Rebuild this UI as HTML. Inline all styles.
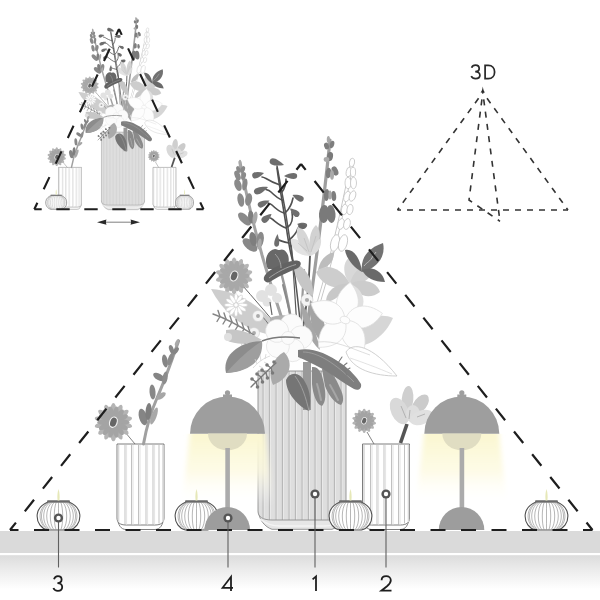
<!DOCTYPE html>
<html><head><meta charset="utf-8">
<style>
html,body{margin:0;padding:0;background:#fff;width:600px;height:600px;overflow:hidden}
svg{display:block}
text{font-family:"Liberation Sans",sans-serif}
</style></head>
<body>
<svg width="600" height="600" viewBox="0 0 600 600">
<defs>
  <linearGradient id="floor" x1="0" y1="0" x2="0" y2="1">
    <stop offset="0" stop-color="#dcdcdc"/>
    <stop offset="0.5" stop-color="#eeeeee"/>
    <stop offset="1" stop-color="#ffffff"/>
  </linearGradient>
  <linearGradient id="glow" x1="0" y1="0" x2="0" y2="1">
    <stop offset="0" stop-color="#fbf7cf" stop-opacity="1"/>
    <stop offset="0.2" stop-color="#fbf7d2" stop-opacity="1"/>
    <stop offset="0.6" stop-color="#fdfae0" stop-opacity="0.8"/>
    <stop offset="1" stop-color="#ffffff" stop-opacity="0"/>
  </linearGradient>
  <pattern id="stripes" x="258" y="0" width="6.5" height="10" patternUnits="userSpaceOnUse">
    <rect width="6.5" height="10" fill="#dedede"/>
    <rect x="4.5" width="1.2" height="10" fill="#b4b4b4"/>
    <rect x="5.7" width="0.8" height="10" fill="#eeeeee"/>
  </pattern>
  <g id="candle">
    <path d="M-10.5,-28 C-14,-26.5 -20.5,-23.5 -21.3,-15.5 C-22,-7 -17,-1.5 -11,0 L11,0 C17,-1.5 22,-7 21.3,-15.5 C20.5,-23.5 14,-26.5 10.5,-28 Z" fill="#fff" stroke="#505050" stroke-width="1.1"/>
    <path d="M-10.24,-27.5 C-21.08,-22 -21.08,-6 -10.72,-0.5 M-9.46,-27.5 C-19.48,-22 -19.48,-6 -9.91,-0.5 M-8.21,-27.5 C-16.91,-22 -16.91,-6 -8.60,-0.5 M-6.55,-27.5 C-13.48,-22 -13.48,-6 -6.86,-0.5 M-4.56,-27.5 C-9.38,-22 -9.38,-6 -4.77,-0.5 M-2.34,-27.5 C-4.81,-22 -4.81,-6 -2.45,-0.5 M0.00,-27.5 C0.00,-22 0.00,-6 0.00,-0.5 M2.34,-27.5 C4.81,-22 4.81,-6 2.45,-0.5 M4.56,-27.5 C9.38,-22 9.38,-6 4.77,-0.5 M6.55,-27.5 C13.48,-22 13.48,-6 6.86,-0.5 M8.21,-27.5 C16.91,-22 16.91,-6 8.60,-0.5 M9.46,-27.5 C19.48,-22 19.48,-6 9.91,-0.5 M10.24,-27.5 C21.08,-22 21.08,-6 10.72,-0.5" fill="none" stroke="#7a7a7a" stroke-width="0.55"/>
    <path d="M-10.5,-28.8 L10.5,-28.8" stroke="#6a6a6a" stroke-width="2" stroke-linecap="round"/>
    <path d="M0,-41 C1.3,-37 1.3,-33 0.9,-29.5 L-0.9,-29.5 C-1.3,-33 -1.3,-37 0,-41 Z" fill="#e6e8b8"/>
  </g>
  <g id="ring">
    <circle r="4.6" fill="#555"/>
    <circle r="2.2" fill="#fff"/>
  </g>
  <g id="smallvase">
    <path d="M117.5,518 C118,525 121,529.5 126,529.5 L155,529.5 C160,529.5 163,525 163.5,518 Z" fill="#fff" stroke="#6e6e6e" stroke-width="0.9"/>
    <path d="M117,444 L164,444 L164,518 C164,522.5 161,525 155,525 L126,525 C120,525 117,522.5 117,518 Z" fill="#fff" stroke="#6e6e6e" stroke-width="0.9"/>
    <path d="M118.5,445 V522 M163,445 V522" stroke="#d8d8d8" stroke-width="1.6"/>
    <path d="M125,445 V524.5 M131.5,445 V524.5 M138.5,445 V524.5 M146,445 V524.5 M153,445 V524.5 M159,445 V523.5" stroke="#a6a6a6" stroke-width="0.7"/>
    <path d="M126.5,445 V524.5 M133,445 V524.5 M140,445 V524.5 M147.5,445 V524.5 M154.5,445 V524.5" stroke="#e6e6e6" stroke-width="1.2"/>
  </g>
<g id="bouquetvase"><path d="M258.5,511 C259,520 265,527 272,529.3 L332,529.3 C339,527 345,520 345.5,511 Z" fill="#e6e6e6" stroke="#8a8a8a" stroke-width="0.9"/><path d="M260,519 C266,524 272,526 280,526 L324,526 C332,526 338,524 344,519" fill="none" stroke="#f4f4f4" stroke-width="1.5"/><path d="M258,371 L346,371 L346,511 C346,517 341,520 332,520 L272,520 C263,520 258,517 258,511 Z" fill="url(#stripes)" stroke="#8f8f8f" stroke-width="0.9"/><g fill="none" stroke-linecap="round"><path d="M290,345 C283,320 272,290 262,255 C256,232 250,215 240,162" stroke="#a3a3a3" stroke-width="3"/><path d="M302,340 C298,300 292,240 277,166" stroke="#555" stroke-width="1.5"/><path d="M305,345 C310,300 320,240 330,140" stroke="#9e9e9e" stroke-width="3.2"/><path d="M300,345 C305,320 309,290 310,256" stroke="#555" stroke-width="1.8"/><path d="M294,345 C292,320 286,290 280,268" stroke="#999" stroke-width="2.5"/><path d="M292,345 C275,322 255,300 236,278" stroke="#666" stroke-width="1"/><path d="M298,345 C296,310 294,280 291,240" stroke="#5a5a5a" stroke-width="1.2"/><path d="M296,345 C292,320 287,300 283,285" stroke="#8a8a8a" stroke-width="2"/><path d="M300,345 C301,320 302,300 304,270" stroke="#9a9a9a" stroke-width="2.2"/></g><path d="M318,305 C330,265 340,225 352,163" stroke="#c6c6c6" stroke-width="4" fill="none"/><path d="M318,305 C330,265 340,225 352,163" stroke="#fff" stroke-width="2.2" fill="none"/><g fill="none" stroke="#505050" stroke-width="1.6" stroke-linecap="round"><path d="M277,168 C279,185 283,205 286,225 C288,240 290,252 293,262"/><path d="M280,185 C274,183 270,181 266,178.5 C264,177.5 263,177 262,177"/><path d="M283,200.5 C279,199 275,196 271,192 C269.5,190.5 268,190 266,189.5"/><path d="M284,213 C279,211.5 275,208 272,205 C271,204 270,203.5 268,203"/><path d="M286,228 C280,226 276,222 272,219 C271.5,218.5 271,218 270,218"/><path d="M289,243 C284,242 280,241 277,239"/><path d="M282,192 C285,188 286,184 286,179"/><path d="M286,212 C290,208 292,203 293,198"/><path d="M288,227 C292,224 293,218 292,212"/><path d="M289,240 C294,236 297,232 298,228"/></g><g fill="#686868"><path d="M0,0 C-6.0,-3.3 -14.9,-5.5 -14.9,0 C-14.9,5.5 -6.0,3.3 0,0 Z" fill="#6e6e6e" transform="translate(284,165) rotate(18)"/><path d="M0,0 C-4.8,-3.0 -12.1,-5.0 -12.1,0 C-12.1,5.0 -4.8,3.0 0,0 Z" fill="#6e6e6e" transform="translate(264,173) rotate(-15)"/><path d="M0,0 C-6.0,-3.2 -14.9,-5.3 -14.9,0 C-14.9,5.3 -6.0,3.2 0,0 Z" fill="#6e6e6e" transform="translate(268,187) rotate(-22)"/><path d="M0,0 C-5.1,-3.0 -12.7,-5.0 -12.7,0 C-12.7,5.0 -5.1,3.0 0,0 Z" fill="#6e6e6e" transform="translate(269.5,200.5) rotate(-25)"/><path d="M0,0 C-4.8,-3.2 -12.1,-5.3 -12.1,0 C-12.1,5.3 -4.8,3.2 0,0 Z" fill="#6e6e6e" transform="translate(271.5,214) rotate(-40)"/><path d="M0,0 C5.1,-2.4 12.7,-4.1 12.7,0 C12.7,4.1 5.1,2.4 0,0 Z" fill="#6e6e6e" transform="translate(277.5,234) rotate(95)"/><path d="M0,0 C5.3,-2.9 13.2,-4.8 13.2,0 C13.2,4.8 5.3,2.9 0,0 Z" fill="#6e6e6e" transform="translate(284,176) rotate(0)"/><path d="M0,0 C4.8,-2.9 12.1,-4.8 12.1,0 C12.1,4.8 4.8,2.9 0,0 Z" fill="#6e6e6e" transform="translate(292.5,195) rotate(25)"/><path d="M0,0 C4.6,-3.0 11.5,-5.0 11.5,0 C11.5,5.0 4.6,3.0 0,0 Z" fill="#6e6e6e" transform="translate(290,208.5) rotate(40)"/><path d="M0,0 C4.1,-2.3 10.3,-3.8 10.3,0 C10.3,3.8 4.1,2.3 0,0 Z" fill="#6e6e6e" transform="translate(297,224) rotate(10)"/></g><ellipse cx="240" cy="163.5" rx="1.3" ry="3.8" fill="#a8a8a8"/><g fill="#8a8a8a"><ellipse cx="238.5" cy="169.5" rx="2.07" ry="3.52" transform="rotate(-20 238.5 169.5)" fill="#8a8a8a" /><ellipse cx="242.8" cy="169.5" rx="2.07" ry="3.52" transform="rotate(20 242.8 169.5)" fill="#8a8a8a" /><ellipse cx="237.5" cy="175.5" rx="2.76" ry="5.06" transform="rotate(-22 237.5 175.5)" fill="#8a8a8a" /><ellipse cx="243.6" cy="176" rx="2.3" ry="3.96" transform="rotate(15 243.6 176)" fill="#8a8a8a" /><ellipse cx="238" cy="185" rx="3.45" ry="6.16" transform="rotate(-18 238 185)" fill="#8a8a8a" /><ellipse cx="244.8" cy="184.5" rx="2.53" ry="6.05" transform="rotate(10 244.8 184.5)" fill="#8a8a8a" /><ellipse cx="240.8" cy="200" rx="3.33" ry="6.82" transform="rotate(-10 240.8 200)" fill="#8a8a8a" /><ellipse cx="248.6" cy="199.5" rx="3.45" ry="6.38" transform="rotate(10 248.6 199.5)" fill="#8a8a8a" /><ellipse cx="244.5" cy="219" rx="4.02" ry="8.25" transform="rotate(-45 244.5 219)" fill="#8a8a8a" /><ellipse cx="251" cy="217" rx="2.88" ry="6.6" transform="rotate(-5 251 217)" fill="#7e7e7e" /><ellipse cx="255" cy="218" rx="2.3" ry="6.6" transform="rotate(10 255 218)" fill="#a8a8a8" /><ellipse cx="250" cy="245" rx="4.6" ry="8.8" transform="rotate(-50 250 245)" fill="#888" /><ellipse cx="253" cy="239" rx="3.45" ry="7.15" transform="rotate(-10 253 239)" fill="#7e7e7e" /><ellipse cx="260" cy="240" rx="3.68" ry="8.25" transform="rotate(10 260 240)" fill="#8a8a8a" /><ellipse cx="259.5" cy="244" rx="2.07" ry="5.5" transform="rotate(8 259.5 244)" fill="#aaa" /></g><ellipse cx="328.4" cy="139.5" rx="1.6" ry="3.6" fill="#a8a8a8"/><ellipse cx="326.5" cy="146" rx="2.4" ry="3.4" transform="rotate(-15 326.5 146)" fill="#7e7e7e" /><ellipse cx="332" cy="144.5" rx="2.2" ry="3.8" transform="rotate(15 332 144.5)" fill="#7e7e7e" /><ellipse cx="330" cy="156.5" rx="3" ry="4.5" transform="rotate(10 330 156.5)" fill="#7a7a7a" /><ellipse cx="326.5" cy="159.5" rx="2.8" ry="2.4" transform="rotate(0 326.5 159.5)" fill="#aaa" /><ellipse cx="328.5" cy="173" rx="2.8" ry="5.2" transform="rotate(5 328.5 173)" fill="#7e7e7e" /><ellipse cx="335" cy="171" rx="3" ry="4.8" transform="rotate(-25 335 171)" fill="#7e7e7e" /><ellipse cx="332" cy="175" rx="2" ry="4.8" transform="rotate(0 332 175)" fill="#aaa" /><ellipse cx="326.6" cy="195" rx="2.7" ry="6" transform="rotate(5 326.6 195)" fill="#7e7e7e" /><ellipse cx="333.7" cy="196" rx="2.5" ry="5" transform="rotate(-5 333.7 196)" fill="#7e7e7e" /><ellipse cx="330" cy="195" rx="1.6" ry="4.5" transform="rotate(0 330 195)" fill="#a8a8a8" /><ellipse cx="324" cy="214" rx="5" ry="9" transform="rotate(5 324 214)" fill="#7a7a7a" /><ellipse cx="331" cy="214" rx="4.5" ry="9" transform="rotate(-5 331 214)" fill="#7a7a7a" /><g fill="#fff" stroke="#c4c4c4" stroke-width="0.8"><ellipse cx="352" cy="162.5" rx="2.6" ry="4.3" transform="rotate(10 352 162.5)"/><ellipse cx="348.8" cy="172" rx="2.6" ry="4.8" transform="rotate(10 348.8 172)"/><ellipse cx="353" cy="172" rx="2.6" ry="4.8" transform="rotate(0 353 172)"/><ellipse cx="348" cy="183" rx="3" ry="5.8" transform="rotate(0 348 183)"/><ellipse cx="353.5" cy="183" rx="3" ry="5.8" transform="rotate(0 353.5 183)"/><ellipse cx="347" cy="196.5" rx="3" ry="5.4" transform="rotate(20 347 196.5)"/><ellipse cx="352.5" cy="196" rx="3" ry="5.4" transform="rotate(20 352.5 196)"/><ellipse cx="344.5" cy="209.5" rx="3" ry="5.2" transform="rotate(10 344.5 209.5)"/><ellipse cx="350" cy="209.5" rx="3" ry="5.2" transform="rotate(10 350 209.5)"/><ellipse cx="341" cy="224" rx="3.2" ry="5.5" transform="rotate(15 341 224)"/><ellipse cx="347" cy="224" rx="3.2" ry="5.5" transform="rotate(15 347 224)"/><ellipse cx="335" cy="243" rx="4.2" ry="8.5" transform="rotate(15 335 243)"/><ellipse cx="343" cy="243" rx="4.2" ry="8.5" transform="rotate(15 343 243)"/></g><g><path d="M310,256 C300,256 290,250 291,239 C300,238 308,246 310,256 Z" fill="#e2e2e2"/><path d="M310,256 C300,248 294,236 298,226 C307,230 312,244 310,256 Z" fill="#d6d6d6"/><path d="M310,256 C308,242 310,230 316,225 C323,232 320,248 310,256 Z" fill="#d2d2d2"/><path d="M310,256 C312,248 316,241 321,238 C322,248 317,254 310,256 Z" fill="#dcdcdc"/><path d="M298,243 L307,251 M304,238 L309,252 M316,236 L311,252" stroke="#bdbdbd" stroke-width="0.7"/></g><ellipse cx="302" cy="226.5" rx="4" ry="2.2" transform="rotate(15 302 226.5)" fill="#666" /><path d="M318,270 C320,260 326,254 334,252 C334,262 328,268 318,270 Z" fill="#bdbdbd"/><path d="M293,262 C305,266 314,280 313,296 C302,292 294,278 293,262 Z" fill="#c6c6c6"/><path d="M300,300 C308,312 316,330 320,350 C310,342 302,322 300,300 Z" fill="#a6a6a6"/><path d="M268,269 C263,259 268,250 275,249 C277,249 278,250.5 279.5,250 C281,249.5 282,249 284,250 C290,254 290,263 286,269 Z" fill="#686868"/><path d="M266,282 C261,279 265,273 273,268.5 C281,264 291,260 297,260.5 C302,261 302,266 297,268.5 C289,272 281,275 273,280 C270,282 268,283 266,282 Z" fill="#626262"/><path d="M269,278 C277,272 287,267 296,264.5 M275,254 C279,258 281,263 281,268" stroke="#a8a8a8" stroke-width="0.9" fill="none"/><g><path d="M350,284 C342,268 326,262 316,272 C322,286 338,292 350,284 Z" fill="#cdcdcd"/><path d="M350,284 C342,274 342,260 352,256 C362,264 360,278 350,284 Z" fill="#d8d8d8"/><path d="M350,284 C352,272 362,264 372,266 C374,278 362,286 350,284 Z" fill="#d0d0d0"/><path d="M350,284 C360,278 376,280 380,292 C370,300 356,296 350,284 Z" fill="#cccccc"/><path d="M350,284 C362,288 366,300 362,308 C350,306 344,296 350,284 Z" fill="#e0e0e0"/><path d="M350,284 C344,292 334,302 326,302 C326,290 338,282 350,284 Z" fill="#c8c8c8"/></g><path d="M345,250 C352,248 360,256 362,272 C354,268 346,258 345,250 Z" fill="#6a6a6a"/><path d="M362,272 C360,258 368,248 383,243 C386,256 378,268 362,272 Z" fill="#727272"/><path d="M362,270 C372,266 382,270 385,282 C374,282 366,278 362,270 Z" fill="#6a6a6a"/><path d="M364,266 C367,262 370,262 373,256 L376,252" stroke="#c0c0c0" stroke-width="0.9" fill="none"/><path d="M350,332 C365,318 380,312 393,318 C385,336 370,346 356,346 Z" fill="#d6d6d6"/><g transform="translate(234.1,276) scale(1,1.0)"><ellipse cx="0" cy="-11.40" rx="2.85" ry="7.22" fill="#b6b6b6" transform="rotate(0.0)"/><ellipse cx="0" cy="-11.40" rx="2.85" ry="7.22" fill="#b6b6b6" transform="rotate(25.7)"/><ellipse cx="0" cy="-11.40" rx="2.85" ry="7.22" fill="#b6b6b6" transform="rotate(51.4)"/><ellipse cx="0" cy="-11.40" rx="2.85" ry="7.22" fill="#b6b6b6" transform="rotate(77.1)"/><ellipse cx="0" cy="-11.40" rx="2.85" ry="7.22" fill="#b6b6b6" transform="rotate(102.9)"/><ellipse cx="0" cy="-11.40" rx="2.85" ry="7.22" fill="#b6b6b6" transform="rotate(128.6)"/><ellipse cx="0" cy="-11.40" rx="2.85" ry="7.22" fill="#b6b6b6" transform="rotate(154.3)"/><ellipse cx="0" cy="-11.40" rx="2.85" ry="7.22" fill="#b6b6b6" transform="rotate(180.0)"/><ellipse cx="0" cy="-11.40" rx="2.85" ry="7.22" fill="#b6b6b6" transform="rotate(205.7)"/><ellipse cx="0" cy="-11.40" rx="2.85" ry="7.22" fill="#b6b6b6" transform="rotate(231.4)"/><ellipse cx="0" cy="-11.40" rx="2.85" ry="7.22" fill="#b6b6b6" transform="rotate(257.1)"/><ellipse cx="0" cy="-11.40" rx="2.85" ry="7.22" fill="#b6b6b6" transform="rotate(282.9)"/><ellipse cx="0" cy="-11.40" rx="2.85" ry="7.22" fill="#b6b6b6" transform="rotate(308.6)"/><ellipse cx="0" cy="-11.40" rx="2.85" ry="7.22" fill="#b6b6b6" transform="rotate(334.3)"/><ellipse cx="0" cy="-9.12" rx="2.66" ry="6.46" fill="#a8a8a8" transform="rotate(12.9)"/><ellipse cx="0" cy="-9.12" rx="2.66" ry="6.46" fill="#a8a8a8" transform="rotate(38.6)"/><ellipse cx="0" cy="-9.12" rx="2.66" ry="6.46" fill="#a8a8a8" transform="rotate(64.3)"/><ellipse cx="0" cy="-9.12" rx="2.66" ry="6.46" fill="#a8a8a8" transform="rotate(90.0)"/><ellipse cx="0" cy="-9.12" rx="2.66" ry="6.46" fill="#a8a8a8" transform="rotate(115.7)"/><ellipse cx="0" cy="-9.12" rx="2.66" ry="6.46" fill="#a8a8a8" transform="rotate(141.4)"/><ellipse cx="0" cy="-9.12" rx="2.66" ry="6.46" fill="#a8a8a8" transform="rotate(167.1)"/><ellipse cx="0" cy="-9.12" rx="2.66" ry="6.46" fill="#a8a8a8" transform="rotate(192.9)"/><ellipse cx="0" cy="-9.12" rx="2.66" ry="6.46" fill="#a8a8a8" transform="rotate(218.6)"/><ellipse cx="0" cy="-9.12" rx="2.66" ry="6.46" fill="#a8a8a8" transform="rotate(244.3)"/><ellipse cx="0" cy="-9.12" rx="2.66" ry="6.46" fill="#a8a8a8" transform="rotate(270.0)"/><ellipse cx="0" cy="-9.12" rx="2.66" ry="6.46" fill="#a8a8a8" transform="rotate(295.7)"/><ellipse cx="0" cy="-9.12" rx="2.66" ry="6.46" fill="#a8a8a8" transform="rotate(321.4)"/><ellipse cx="0" cy="-9.12" rx="2.66" ry="6.46" fill="#a8a8a8" transform="rotate(347.1)"/><ellipse rx="4.18" ry="5.70" fill="#f2f2f2" transform="rotate(20)"/><ellipse rx="3.04" ry="4.56" fill="#666" transform="rotate(20)"/></g><path d="M211,289 C235,290 265,306 282,334 C260,338 228,322 211,289 Z" fill="#cdcdcd"/><path d="M262,316 C267,322 272,328 275,334" stroke="#777" stroke-width="1" fill="none"/><g transform="translate(236,305)"><ellipse cx="0" cy="-6.33" rx="1.84" ry="5.17" fill="#fff" stroke="#cfcfcf" stroke-width="0.6" transform="rotate(0.0)"/><ellipse cx="0" cy="-6.33" rx="1.84" ry="5.17" fill="#fff" stroke="#cfcfcf" stroke-width="0.6" transform="rotate(30.0)"/><ellipse cx="0" cy="-6.33" rx="1.84" ry="5.17" fill="#fff" stroke="#cfcfcf" stroke-width="0.6" transform="rotate(60.0)"/><ellipse cx="0" cy="-6.33" rx="1.84" ry="5.17" fill="#fff" stroke="#cfcfcf" stroke-width="0.6" transform="rotate(90.0)"/><ellipse cx="0" cy="-6.33" rx="1.84" ry="5.17" fill="#fff" stroke="#cfcfcf" stroke-width="0.6" transform="rotate(120.0)"/><ellipse cx="0" cy="-6.33" rx="1.84" ry="5.17" fill="#fff" stroke="#cfcfcf" stroke-width="0.6" transform="rotate(150.0)"/><ellipse cx="0" cy="-6.33" rx="1.84" ry="5.17" fill="#fff" stroke="#cfcfcf" stroke-width="0.6" transform="rotate(180.0)"/><ellipse cx="0" cy="-6.33" rx="1.84" ry="5.17" fill="#fff" stroke="#cfcfcf" stroke-width="0.6" transform="rotate(210.0)"/><ellipse cx="0" cy="-6.33" rx="1.84" ry="5.17" fill="#fff" stroke="#cfcfcf" stroke-width="0.6" transform="rotate(240.0)"/><ellipse cx="0" cy="-6.33" rx="1.84" ry="5.17" fill="#fff" stroke="#cfcfcf" stroke-width="0.6" transform="rotate(270.0)"/><ellipse cx="0" cy="-6.33" rx="1.84" ry="5.17" fill="#fff" stroke="#cfcfcf" stroke-width="0.6" transform="rotate(300.0)"/><ellipse cx="0" cy="-6.33" rx="1.84" ry="5.17" fill="#fff" stroke="#cfcfcf" stroke-width="0.6" transform="rotate(330.0)"/><circle r="2.30" fill="#fff" stroke="#bbb" stroke-width="0.6"/></g><circle cx="258" cy="316" r="5.5" fill="#f4f4f4" stroke="#cfcfcf" stroke-width="0.6"/><circle cx="258" cy="316" r="1.92" fill="#aaa"/><circle cx="254" cy="333" r="5.5" fill="#f4f4f4" stroke="#cfcfcf" stroke-width="0.6"/><circle cx="254" cy="333" r="1.92" fill="#aaa"/><circle cx="307" cy="300" r="6" fill="#f4f4f4" stroke="#cfcfcf" stroke-width="0.6"/><circle cx="307" cy="300" r="2.10" fill="#aaa"/><circle cx="245" cy="343" r="4" fill="#f4f4f4" stroke="#cfcfcf" stroke-width="0.6"/><circle cx="245" cy="343" r="1.40" fill="#aaa"/><g fill="#e2e2e2"><circle cx="262" cy="296" r="6"/><circle cx="271" cy="290" r="6"/><circle cx="277" cy="298" r="5"/><circle cx="267" cy="302" r="4.5"/></g><path d="M270,302 L272,315" stroke="#666" stroke-width="1.2"/><g stroke="#858585" stroke-width="1.4" fill="none" stroke-linecap="round"><path d="M213,314 C225,318 238,325 254,335"/><path d="M220,316.5 L218,310.5"/><path d="M220,316.5 L217,321.5"/><path d="M226,319 L224,313"/><path d="M226,319 L223,324"/><path d="M232,322 L230,316"/><path d="M232,322 L229,327"/><path d="M238,325.5 L236,319.5"/><path d="M238,325.5 L235,330.5"/><path d="M244,329 L242,323"/><path d="M244,329 L241,334"/><path d="M250,332.5 L248,326.5"/><path d="M250,332.5 L247,337.5"/></g><path d="M226,330 C235,328 250,332 262,340 C250,345 235,345 226,340 Z" fill="#c6c6c6"/><circle cx="228" cy="337" r="4" fill="#e0e0e0"/><path d="M310,300 C322,310 328,328 326,346 C314,338 308,320 310,300 Z" fill="#a4a4a4"/><path d="M270,318 C278,314 290,314 300,320 L300,345 L272,345 Z" fill="#b0b0b0"/><g fill="#fdfdfd" stroke="#dcdcdc" stroke-width="0.7"><path d="M345,320 C331,312 330,296 345,282 C360,296 359,312 345,320 Z" transform="rotate(8 345 320)"/><path d="M345,320 C331,312 330,296 345,282 C360,296 359,312 345,320 Z" transform="rotate(80 345 320)"/><path d="M345,320 C331,312 330,296 345,282 C360,296 359,312 345,320 Z" transform="rotate(152 345 320)"/><path d="M345,320 C331,312 330,296 345,282 C360,296 359,312 345,320 Z" transform="rotate(224 345 320)"/><path d="M345,320 C331,312 330,296 345,282 C360,296 359,312 345,320 Z" transform="rotate(296 345 320)"/><ellipse cx="345" cy="320" rx="5" ry="3.6" transform="rotate(20 345 320)"/></g><g fill="#fbfbfb" stroke="#dedede" stroke-width="0.6"><circle cx="288" cy="325" r="11.5" transform="rotate(15 288 338)"/><circle cx="288" cy="325" r="11.5" transform="rotate(87 288 338)"/><circle cx="288" cy="325" r="11.5" transform="rotate(159 288 338)"/><circle cx="288" cy="325" r="11.5" transform="rotate(231 288 338)"/><circle cx="288" cy="325" r="11.5" transform="rotate(303 288 338)"/><circle cx="288" cy="338" r="6.5"/></g><path d="M346,352 C352,342 372,344 397,376 C375,376 352,370 346,352 Z" fill="#fff" stroke="#c4c4c4" stroke-width="0.8"/><path d="M350,358 C362,362 378,368 392,374" stroke="#d0d0d0" stroke-width="0.6" fill="none"/><path d="M318,342 C335,340 350,348 370,355" stroke="#d0d0d0" stroke-width="0.7" fill="none"/><path d="M226,373 C222,356 238,342 262,341 C262,360 248,372 226,373 Z" fill="#8c8c8c"/><path d="M226,373 C236,362 248,350 262,341 C264,360 250,372 226,373 Z" fill="#9e9e9e"/><path d="M262,341 C272,337 285,336 300,338" stroke="#7a7a7a" stroke-width="1.4" fill="none"/><path d="M284,352 C294,362 291,378 273,385 C267,372 273,358 284,352 Z" fill="#aaaaaa"/><path d="M303,362 L311,362 L311,410 L303,410 Z" fill="#999"/><path d="M312,367 C318,366 322,372 324,384 C326,394 326,402 322,406 C316,404 313,394 312,384 Z" fill="#8a8a8a"/><path d="M322,369 C330,368 336,378 340,388 C344,396 344,402 341,405 C334,403 328,394 325,386 Z" fill="#8a8a8a"/><path d="M317,384 C319,390 320,396 321,400 M330,385 C333,390 336,396 338,400" stroke="#a6a6a6" stroke-width="2" fill="none" stroke-linecap="round"/><path d="M298,350 C310,347 326,352 342,364 C350,370 357,377 361,384 C362,389 358,391 354,389 C345,384 336,377 326,371 C316,365 305,360 298,357 Z" fill="#7e7e7e"/><path d="M303,352 C318,352 336,364 354,382" stroke="#a8a8a8" stroke-width="0.7" fill="none"/><path d="M286,380 C290,371 300,372 305,382 C311,392 311,403 309,411 C298,406 286,393 286,380 Z" fill="#757575"/><path d="M295,376 C302,385 306,398 309,411" stroke="#a8a8a8" stroke-width="0.8" fill="none"/><g fill="none" stroke="#d4d4d4" stroke-width="0.8"><path d="M253,368 C258,362 264,358 270,356"/><path d="M257,364 L255,359 M261,361 L260,355 M265,359 L266,354 M259,366 L263,368 M264,362 L268,364"/></g><g stroke="#7a7a7a" stroke-width="1.3" fill="none" stroke-linecap="round"><path d="M251,387 C260,378 268,370 276,363"/><path d="M256,382 L252,379"/><path d="M256,382 L257.5,387"/><path d="M261,377 L257,374"/><path d="M261,377 L262.5,382"/><path d="M266,373 L262,370"/><path d="M266,373 L267.5,378"/><path d="M271,368 L267,365"/><path d="M271,368 L272.5,373"/></g><g fill="#7a7a7a"><circle cx="252" cy="379" r="1.8"/><circle cx="257" cy="374" r="1.8"/><circle cx="262" cy="370" r="1.8"/><circle cx="267" cy="365" r="1.8"/><circle cx="257.5" cy="387" r="1.8"/><circle cx="262.5" cy="382" r="1.8"/><circle cx="267.5" cy="378" r="1.8"/><circle cx="272.5" cy="373" r="1.8"/><circle cx="274" cy="362" r="1.8"/></g><g stroke="#7c7c7c" stroke-width="1.1" fill="none" stroke-linecap="round"><path d="M334,360 C340,364 344,369 347,375"/><path d="M338,363 L342,357 M342,367 L347,363 M345,371 L350,368"/></g></g><g id="vase1full"><use href="#smallvase"/><path d="M125,432 L135,444" stroke="#666" stroke-width="0.8"/><path d="M143.5,444 C146,430 150,414 157,398 C164,382 172,360 178.6,341" stroke="#a0a0a0" stroke-width="3" fill="none" stroke-linecap="round"/><ellipse cx="177" cy="342.5" rx="1.6" ry="3.8" transform="rotate(25 177 342.5)" fill="#aaa" /><ellipse cx="171.5" cy="349.5" rx="2.2" ry="4.6" transform="rotate(-20 171.5 349.5)" fill="#858585" /><ellipse cx="175.5" cy="351" rx="2.2" ry="4.5" transform="rotate(40 175.5 351)" fill="#858585" /><ellipse cx="165" cy="361" rx="2.8" ry="6.5" transform="rotate(-10 165 361)" fill="#858585" /><ellipse cx="170.5" cy="359" rx="2.5" ry="6.5" transform="rotate(20 170.5 359)" fill="#8c8c8c" /><ellipse cx="159" cy="377" rx="3.2" ry="6.5" transform="rotate(-60 159 377)" fill="#858585" /><ellipse cx="165" cy="378" rx="2.6" ry="6.5" transform="rotate(10 165 378)" fill="#8c8c8c" /><ellipse cx="152.5" cy="392" rx="3" ry="7.5" transform="rotate(-5 152.5 392)" fill="#888" /><ellipse cx="161" cy="396" rx="2.6" ry="5.5" transform="rotate(55 161 396)" fill="#a6a6a6" /><ellipse cx="143" cy="417" rx="4" ry="8.5" transform="rotate(-15 143 417)" fill="#858585" /><ellipse cx="148.5" cy="411.5" rx="3" ry="8.5" transform="rotate(5 148.5 411.5)" fill="#7e7e7e" /><ellipse cx="154" cy="416" rx="2.6" ry="9" transform="rotate(20 154 416)" fill="#a8a8a8" /><g transform="translate(113.4,422.2) scale(1,1.0)"><ellipse cx="0" cy="-11.70" rx="2.92" ry="7.41" fill="#b4b4b4" transform="rotate(0.0)"/><ellipse cx="0" cy="-11.70" rx="2.92" ry="7.41" fill="#b4b4b4" transform="rotate(25.7)"/><ellipse cx="0" cy="-11.70" rx="2.92" ry="7.41" fill="#b4b4b4" transform="rotate(51.4)"/><ellipse cx="0" cy="-11.70" rx="2.92" ry="7.41" fill="#b4b4b4" transform="rotate(77.1)"/><ellipse cx="0" cy="-11.70" rx="2.92" ry="7.41" fill="#b4b4b4" transform="rotate(102.9)"/><ellipse cx="0" cy="-11.70" rx="2.92" ry="7.41" fill="#b4b4b4" transform="rotate(128.6)"/><ellipse cx="0" cy="-11.70" rx="2.92" ry="7.41" fill="#b4b4b4" transform="rotate(154.3)"/><ellipse cx="0" cy="-11.70" rx="2.92" ry="7.41" fill="#b4b4b4" transform="rotate(180.0)"/><ellipse cx="0" cy="-11.70" rx="2.92" ry="7.41" fill="#b4b4b4" transform="rotate(205.7)"/><ellipse cx="0" cy="-11.70" rx="2.92" ry="7.41" fill="#b4b4b4" transform="rotate(231.4)"/><ellipse cx="0" cy="-11.70" rx="2.92" ry="7.41" fill="#b4b4b4" transform="rotate(257.1)"/><ellipse cx="0" cy="-11.70" rx="2.92" ry="7.41" fill="#b4b4b4" transform="rotate(282.9)"/><ellipse cx="0" cy="-11.70" rx="2.92" ry="7.41" fill="#b4b4b4" transform="rotate(308.6)"/><ellipse cx="0" cy="-11.70" rx="2.92" ry="7.41" fill="#b4b4b4" transform="rotate(334.3)"/><ellipse cx="0" cy="-9.36" rx="2.73" ry="6.63" fill="#a4a4a4" transform="rotate(12.9)"/><ellipse cx="0" cy="-9.36" rx="2.73" ry="6.63" fill="#a4a4a4" transform="rotate(38.6)"/><ellipse cx="0" cy="-9.36" rx="2.73" ry="6.63" fill="#a4a4a4" transform="rotate(64.3)"/><ellipse cx="0" cy="-9.36" rx="2.73" ry="6.63" fill="#a4a4a4" transform="rotate(90.0)"/><ellipse cx="0" cy="-9.36" rx="2.73" ry="6.63" fill="#a4a4a4" transform="rotate(115.7)"/><ellipse cx="0" cy="-9.36" rx="2.73" ry="6.63" fill="#a4a4a4" transform="rotate(141.4)"/><ellipse cx="0" cy="-9.36" rx="2.73" ry="6.63" fill="#a4a4a4" transform="rotate(167.1)"/><ellipse cx="0" cy="-9.36" rx="2.73" ry="6.63" fill="#a4a4a4" transform="rotate(192.9)"/><ellipse cx="0" cy="-9.36" rx="2.73" ry="6.63" fill="#a4a4a4" transform="rotate(218.6)"/><ellipse cx="0" cy="-9.36" rx="2.73" ry="6.63" fill="#a4a4a4" transform="rotate(244.3)"/><ellipse cx="0" cy="-9.36" rx="2.73" ry="6.63" fill="#a4a4a4" transform="rotate(270.0)"/><ellipse cx="0" cy="-9.36" rx="2.73" ry="6.63" fill="#a4a4a4" transform="rotate(295.7)"/><ellipse cx="0" cy="-9.36" rx="2.73" ry="6.63" fill="#a4a4a4" transform="rotate(321.4)"/><ellipse cx="0" cy="-9.36" rx="2.73" ry="6.63" fill="#a4a4a4" transform="rotate(347.1)"/><ellipse rx="4.29" ry="5.85" fill="#f2f2f2" transform="rotate(20)"/><ellipse rx="3.12" ry="4.68" fill="#666" transform="rotate(20)"/></g></g><g id="vase2full"><use href="#smallvase" transform="translate(245.5,0)"/><path d="M367,432 L374,444" stroke="#666" stroke-width="0.8"/><g transform="translate(364.2,420.8) scale(1,1.0)"><ellipse cx="0" cy="-7.44" rx="1.86" ry="4.71" fill="#b4b4b4" transform="rotate(0.0)"/><ellipse cx="0" cy="-7.44" rx="1.86" ry="4.71" fill="#b4b4b4" transform="rotate(25.7)"/><ellipse cx="0" cy="-7.44" rx="1.86" ry="4.71" fill="#b4b4b4" transform="rotate(51.4)"/><ellipse cx="0" cy="-7.44" rx="1.86" ry="4.71" fill="#b4b4b4" transform="rotate(77.1)"/><ellipse cx="0" cy="-7.44" rx="1.86" ry="4.71" fill="#b4b4b4" transform="rotate(102.9)"/><ellipse cx="0" cy="-7.44" rx="1.86" ry="4.71" fill="#b4b4b4" transform="rotate(128.6)"/><ellipse cx="0" cy="-7.44" rx="1.86" ry="4.71" fill="#b4b4b4" transform="rotate(154.3)"/><ellipse cx="0" cy="-7.44" rx="1.86" ry="4.71" fill="#b4b4b4" transform="rotate(180.0)"/><ellipse cx="0" cy="-7.44" rx="1.86" ry="4.71" fill="#b4b4b4" transform="rotate(205.7)"/><ellipse cx="0" cy="-7.44" rx="1.86" ry="4.71" fill="#b4b4b4" transform="rotate(231.4)"/><ellipse cx="0" cy="-7.44" rx="1.86" ry="4.71" fill="#b4b4b4" transform="rotate(257.1)"/><ellipse cx="0" cy="-7.44" rx="1.86" ry="4.71" fill="#b4b4b4" transform="rotate(282.9)"/><ellipse cx="0" cy="-7.44" rx="1.86" ry="4.71" fill="#b4b4b4" transform="rotate(308.6)"/><ellipse cx="0" cy="-7.44" rx="1.86" ry="4.71" fill="#b4b4b4" transform="rotate(334.3)"/><ellipse cx="0" cy="-5.95" rx="1.74" ry="4.22" fill="#a4a4a4" transform="rotate(12.9)"/><ellipse cx="0" cy="-5.95" rx="1.74" ry="4.22" fill="#a4a4a4" transform="rotate(38.6)"/><ellipse cx="0" cy="-5.95" rx="1.74" ry="4.22" fill="#a4a4a4" transform="rotate(64.3)"/><ellipse cx="0" cy="-5.95" rx="1.74" ry="4.22" fill="#a4a4a4" transform="rotate(90.0)"/><ellipse cx="0" cy="-5.95" rx="1.74" ry="4.22" fill="#a4a4a4" transform="rotate(115.7)"/><ellipse cx="0" cy="-5.95" rx="1.74" ry="4.22" fill="#a4a4a4" transform="rotate(141.4)"/><ellipse cx="0" cy="-5.95" rx="1.74" ry="4.22" fill="#a4a4a4" transform="rotate(167.1)"/><ellipse cx="0" cy="-5.95" rx="1.74" ry="4.22" fill="#a4a4a4" transform="rotate(192.9)"/><ellipse cx="0" cy="-5.95" rx="1.74" ry="4.22" fill="#a4a4a4" transform="rotate(218.6)"/><ellipse cx="0" cy="-5.95" rx="1.74" ry="4.22" fill="#a4a4a4" transform="rotate(244.3)"/><ellipse cx="0" cy="-5.95" rx="1.74" ry="4.22" fill="#a4a4a4" transform="rotate(270.0)"/><ellipse cx="0" cy="-5.95" rx="1.74" ry="4.22" fill="#a4a4a4" transform="rotate(295.7)"/><ellipse cx="0" cy="-5.95" rx="1.74" ry="4.22" fill="#a4a4a4" transform="rotate(321.4)"/><ellipse cx="0" cy="-5.95" rx="1.74" ry="4.22" fill="#a4a4a4" transform="rotate(347.1)"/><ellipse rx="2.73" ry="3.72" fill="#f2f2f2" transform="rotate(20)"/><ellipse rx="1.98" ry="2.98" fill="#666" transform="rotate(20)"/></g><path d="M400.5,443 L407,424" stroke="#555" stroke-width="3.6"/><g><ellipse cx="407.5" cy="399.5" rx="5.8" ry="13.5" fill="#cfcfcf" transform="rotate(5 407.5 399.5)"/><ellipse cx="420.5" cy="404" rx="6.5" ry="11" fill="#cbcbcb" transform="rotate(38 420.5 404)"/><ellipse cx="399.5" cy="411" rx="8.5" ry="14" fill="#d9d9d9" transform="rotate(-25 399.5 411)"/><ellipse cx="413" cy="414" rx="7" ry="9" fill="#dedede"/><ellipse cx="421.5" cy="417.5" rx="12" ry="7" fill="#e0e0e0" transform="rotate(-20 421.5 417.5)"/><path d="M401,406 L406,418 M410,410 L409,419 M417,417 L425,414" stroke="#a8a8a8" stroke-width="0.8"/></g></g><filter id="blur4" x="-30%" y="-30%" width="160%" height="160%"><feGaussianBlur stdDeviation="2.5"/></filter></defs><rect x="0" y="531" width="600" height="22" fill="#dadada"/><rect x="0" y="553" width="600" height="2.2" fill="#fff"/><rect x="0" y="555.2" width="600" height="34" fill="url(#floor)"/><use href="#bouquetvase"/><clipPath id="glowclip"><rect x="0" y="433.8" width="600" height="100"/></clipPath><g clip-path="url(#glowclip)"><g filter="url(#blur4)"><path d="M191.5,420 L263.5,420 L273,505 L182,505 Z" fill="url(#glow)"/><path d="M425.5,420 L497.5,420 L507,505 L416,505 Z" fill="url(#glow)"/></g></g><use href="#vase1full"/><use href="#vase2full"/><use href="#candle" x="58.5" y="530"/><use href="#candle" x="196.5" y="530"/><use href="#candle" x="350.5" y="530"/><use href="#candle" x="546.5" y="530"/><g id="lamp">
  <circle cx="227.5" cy="392.8" r="2.6" fill="#9e9e9e"/>
  <rect x="223" y="394.5" width="9" height="2.5" fill="#9e9e9e"/>
  <path d="M190,433.8 A37.5,37.3 0 0 1 265,433.8 Z" fill="#9e9e9e"/>
  <path d="M208,433.5 A19.5,16.8 0 0 0 247,433.5 Z" fill="#e0ddc2"/>
  <rect x="225.3" y="448" width="4.6" height="62" fill="#ababab"/>
  <path d="M204.5,530 A22.75,23 0 0 1 250,530 Z" fill="#9d9d9d"/>
</g>
<use href="#lamp" transform="translate(234.3,0)"/><g fill="none" stroke="#1e1e1e" stroke-width="2.2">
  <path d="M10,530 L301,164" stroke-dasharray="14.8 14.3" stroke-dashoffset="5.3"/>
  <path d="M301,164 L592.5,530" stroke-dasharray="14.8 14.3" stroke-dashoffset="7.3"/>
  <path d="M10,530 L592.5,530" stroke-dasharray="15 15.5" stroke-dashoffset="6.5"/>
</g><g stroke="#606060" stroke-width="1.1">
  <line x1="58.5" y1="518" x2="58.5" y2="567.5"/><line x1="228" y1="518" x2="228" y2="567.5"/>
  <line x1="315" y1="494" x2="315" y2="567.5"/><line x1="386" y1="494" x2="386" y2="567.5"/>
</g>
<use href="#ring" x="58.5" y="518"/><use href="#ring" x="228" y="518"/><use href="#ring" x="315" y="494"/><use href="#ring" x="386" y="494"/>
<g fill="none" stroke="#1e1e1e" stroke-width="1.8" stroke-linecap="butt" stroke-linejoin="miter">
  <path d="M54,579.3 C54.6,577.2 56,576.1 57.9,576.1 C60.2,576.1 61.6,577.6 61.6,579.6 C61.6,581.7 60,583.1 57.4,583.1 C60.3,583.1 62.2,584.9 62.2,587.1 C62.2,589.4 60.3,590.9 57.9,590.9 C55.7,590.9 54.1,589.8 53.4,588"/>
  <path d="M231,591 V576.8 L222.6,587.8 H233"/>
  <path d="M312.6,579.4 L316,576.4 V591"/>
  <path d="M381.6,580.3 C381.6,577.6 383.6,576.1 386.2,576.1 C389,576.1 390.8,578 390.8,580.3 C390.8,582.6 389.4,584.3 387,586.3 L381.4,590.7 H391.5"/>
</g><g fill="none" stroke="#2a2a2a" stroke-width="1.75">
  <path d="M471.6,67.8 C472.3,65.9 473.9,65.2 475.5,65.2 C477.8,65.2 479.2,66.7 479.2,68.6 C479.2,70.6 477.6,71.7 475.2,71.7 C478.1,71.7 479.9,73.4 479.9,75.3 C479.9,77.4 478,78.6 475.6,78.6 C473.6,78.6 472,77.7 471.2,76.2"/>
  <path d="M485.1,65.3 V78.6 H488.3 C492.3,78.6 494.6,75.5 494.6,71.9 C494.6,68.3 492.3,65.3 488.3,65.3 Z"/>
</g>
<path d="M482.8,86.5 C483.2,89 483.6,91 485,92.6 L480.6,92.6 C482,91 482.4,89 482.8,86.5 Z" fill="#2a2a2a"/>
<g fill="none" stroke="#333" stroke-width="1.6">
  <path d="M482.8,92.5 L397.5,210" stroke-dasharray="6 6.3" stroke-dashoffset="5.1"/>
  <path d="M482.8,92.5 L568,210" stroke-dasharray="6 6.3" stroke-dashoffset="5.1"/>
  <path d="M397.5,210 L568,210" stroke-dasharray="6 6" stroke-dashoffset="2.5"/>
  <path d="M482.8,92.5 L469,200 L500,221.3" stroke-dasharray="6 6.4" stroke-dashoffset="5.5"/>
  <path d="M482.8,92.5 L500,221.3" stroke-dasharray="6 6.4" stroke-dashoffset="5.5"/>
</g><use href="#bouquetvase" transform="translate(123,209.5) scale(0.49) translate(-302,-529)"/><use href="#vase1full" transform="translate(70,209.3) scale(0.49) translate(-140.5,-529.5)"/><use href="#vase2full" transform="translate(164.5,209.3) scale(0.49) translate(-386,-529.5)"/><use href="#candle" transform="translate(56.2,209.3) scale(0.49)"/><use href="#candle" transform="translate(184.6,209.3) scale(0.42,0.49)"/><g fill="none" stroke="#1e1e1e" stroke-width="2.1">
  <path d="M34.3,209.3 L119,29" stroke-dasharray="13.5 14.85" stroke-dashoffset="6.25"/>
  <path d="M119,29 L203.5,209.3" stroke-dasharray="13.5 14.85" stroke-dashoffset="7"/>
  <path d="M34.3,209.3 L203.5,209.3" stroke-dasharray="13.4 14.6" stroke-dashoffset="6"/>
</g>
<line x1="104" y1="222.2" x2="133" y2="222.2" stroke="#8a8a8a" stroke-width="1.1"/>
<g fill="#2a2a2a">
  <path d="M97,222.2 L106.5,219.6 C105.8,221.3 105.8,223.1 106.5,224.8 Z"/>
  <path d="M140,222.2 L130.5,219.6 C131.2,221.3 131.2,223.1 130.5,224.8 Z"/>
</g></svg></body></html>
